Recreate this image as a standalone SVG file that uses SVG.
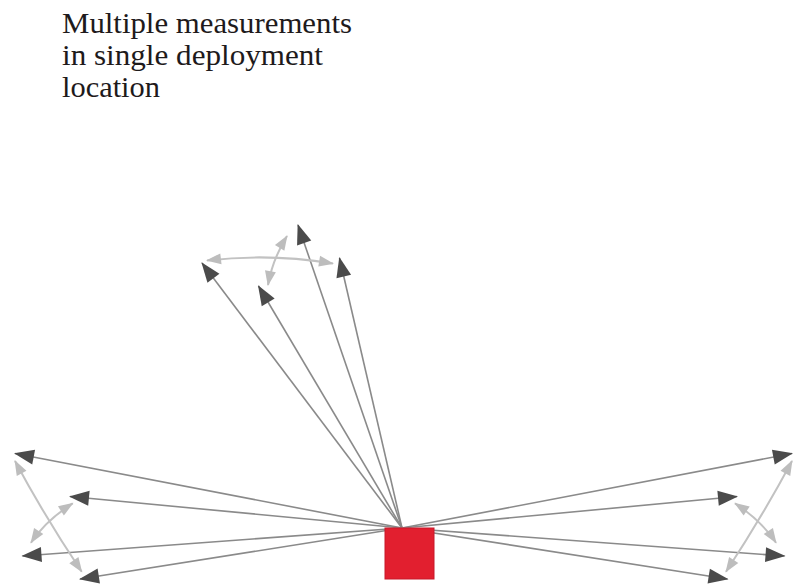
<svg xmlns="http://www.w3.org/2000/svg" width="795" height="587" viewBox="0 0 795 587">
<defs>
<style>
.title{font-family:"Liberation Serif","Times New Roman",serif;font-size:29px;fill:#1e1a1b}
.dk{stroke:#8a8a8a;stroke-width:1.6;fill:none;marker-end:url(#hd)}
.lt{stroke:#c2c2c2;stroke-width:2;fill:none;marker-start:url(#hl);marker-end:url(#hl)}
</style>
<marker id="hd" markerUnits="userSpaceOnUse" markerWidth="22" markerHeight="16" refX="19" refY="7.5" orient="auto" overflow="visible">
<path d="M0,0 L20,7.5 L0,15 z" fill="#4b4b4b"/>
</marker>
<marker id="hl" markerUnits="userSpaceOnUse" markerWidth="16" markerHeight="12" refX="14" refY="5.5" orient="auto-start-reverse" overflow="visible">
<path d="M0,0 L15,5.5 L0,11 z" fill="#bdbdbd"/>
</marker>
</defs>
<rect width="795" height="587" fill="#ffffff"/>
<g id="title">
<text class="title" x="62" y="33" textLength="290" lengthAdjust="spacingAndGlyphs">Multiple measurements</text>
<text class="title" x="62" y="64.5" textLength="261" lengthAdjust="spacingAndGlyphs">in single deployment</text>
<text class="title" x="62" y="96.5" textLength="98" lengthAdjust="spacingAndGlyphs">location</text>
</g>
<g id="connectors">
<line class="dk" x1="402" y1="528" x2="202" y2="263"/>
<line class="dk" x1="402" y1="528" x2="258.5" y2="286"/>
<line class="dk" x1="402" y1="528" x2="298" y2="225"/>
<line class="dk" x1="402" y1="528" x2="339.5" y2="258"/>
<line class="dk" x1="402" y1="528" x2="15" y2="453.5"/>
<line class="dk" x1="402" y1="528" x2="70" y2="496.5"/>
<line class="dk" x1="402" y1="528" x2="22.5" y2="556"/>
<line class="dk" x1="402" y1="528" x2="80" y2="579"/>
<line class="dk" x1="402" y1="528" x2="792" y2="453.5"/>
<line class="dk" x1="402" y1="528" x2="737" y2="496.5"/>
<line class="dk" x1="402" y1="528" x2="784.5" y2="556"/>
<line class="dk" x1="402" y1="528" x2="727.5" y2="579"/>
<path class="lt" d="M207,260.5 Q270,253 333,263.5"/>
<path class="lt" d="M287,236 Q272.5,259.5 268,285"/>
<path class="lt" d="M15,461 Q45,517 81.7,571.7"/>
<path class="lt" d="M72.7,503.3 Q45.2,521 31,542.7"/>
<path class="lt" d="M792,461 Q762,517 726,571.7"/>
<path class="lt" d="M735,503.3 Q761.8,521 776,542.7"/>
</g>
<g id="device">
<rect x="385" y="528" width="49" height="51" fill="#e21f2f" stroke="#c8182a" stroke-width="1"/>
</g>
</svg>
